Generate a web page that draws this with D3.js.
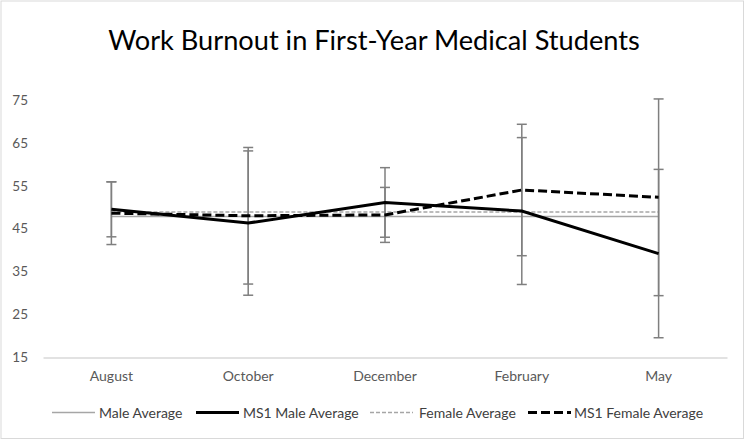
<!DOCTYPE html>
<html><head><meta charset="utf-8">
<script src="https://cdn.jsdelivr.net/npm/d3@7"></script>
<style>
body{margin:0;background:#fff;}
svg{display:block;font-family:Lato, "Open Sans", sans-serif;}
</style></head>
<body>
<svg id="chart" width="746" height="441"></svg>
<script>
const months = ["August","October","December","February","May"];
const yTicks = [15,25,35,45,55,65,75];
const maleAvg = [47.8,47.8,47.8,47.8,47.8];
const femaleAvg = [48.9,48.9,48.9,48.9,48.9];
const ms1Male = [49.5,46.3,51.1,49.1,39.2];
const ms1Female = [48.6,48.0,48.2,54.0,52.3];
const ms1MaleErr = [6.4,16.8,8.1,17.1,19.6];
const ms1FemaleErr = [7.3,15.9,6.4,15.3,22.9];
const legendLabels = ["Male Average","MS1 Male Average","Female  Average","MS1 Female Average"];

const svg = d3.select("#chart");
svg.append("rect").attr("x",1).attr("y",1).attr("width",742.5).attr("height",437.5)
  .attr("fill","#fff").attr("stroke","#d9d9d9").attr("stroke-width",1);

svg.append("text").attr("x",374).attr("y",50).attr("text-anchor","middle")
  .attr("font-size",27.2).attr("fill","#000").text("Work Burnout in First-Year Medical Students");

const x = d3.scaleBand().domain(months).range([43,727]);
const y = d3.scaleLinear().domain([15,75]).range([357.5,99.8]);
const cx = m => x(m) + x.bandwidth()/2;

// y axis labels
const yAxis = d3.axisLeft(y).tickValues(yTicks).tickSize(0).tickPadding(0);
const ya = svg.append("g").attr("transform","translate(28,0)").call(yAxis);
ya.select(".domain").remove();
ya.selectAll("text").attr("font-size",13.5).attr("fill","#595959").attr("font-family","Lato, 'Open Sans', sans-serif");

// x axis
const xAxis = d3.axisBottom(x).tickSize(0).tickPadding(14);
const xa = svg.append("g").attr("transform",`translate(0,${y(15)})`).call(xAxis);
xa.select(".domain").attr("stroke","#d9d9d9").attr("stroke-width",1.5);
xa.selectAll("text").attr("font-size",14).attr("fill","#595959").attr("font-family","Lato, 'Open Sans', sans-serif");

const line = d3.line().x((d,i)=>cx(months[i])).y(d=>y(d));

// error bars
function errBars(vals, errs){
  const g = svg.append("g").attr("stroke","#7f7f7f").attr("stroke-width",1.5);
  vals.forEach((v,i)=>{
    const xc = cx(months[i]);
    g.append("line").attr("x1",xc).attr("x2",xc).attr("y1",y(v-errs[i])).attr("y2",y(v+errs[i]));
    [v-errs[i], v+errs[i]].forEach(e=>{
      g.append("line").attr("x1",xc-5).attr("x2",xc+5).attr("y1",y(e)).attr("y2",y(e));
    });
  });
}

svg.append("path").datum(maleAvg).attr("d",line).attr("fill","none").attr("stroke","#a6a6a6").attr("stroke-width",1.5);
svg.append("path").datum(femaleAvg).attr("d",line).attr("fill","none").attr("stroke","#a6a6a6").attr("stroke-width",1.5).attr("stroke-dasharray","4,2");
errBars(ms1Male, ms1MaleErr);
errBars(ms1Female, ms1FemaleErr);
svg.append("path").datum(ms1Male).attr("d",line).attr("fill","none").attr("stroke","#000").attr("stroke-width",3);
svg.append("path").datum(ms1Female).attr("d",line).attr("fill","none").attr("stroke","#000").attr("stroke-width",3).attr("stroke-dasharray","9,4");

// legend
const legendStyles = [
  {stroke:"#a6a6a6", w:1.5, dash:null, x0:52, x1:95, tx:99},
  {stroke:"#000", w:3, dash:null, x0:196, x1:239, tx:243},
  {stroke:"#a6a6a6", w:1.5, dash:"4,2", x0:370, x1:413, tx:419},
  {stroke:"#000", w:3, dash:"9,4", x0:528, x1:571, tx:574}
];
const lg = svg.append("g");
legendLabels.forEach((lab,i)=>{
  const s = legendStyles[i];
  lg.append("line").attr("x1",s.x0).attr("x2",s.x1).attr("y1",412.5).attr("y2",412.5)
    .attr("stroke",s.stroke).attr("stroke-width",s.w).attr("stroke-dasharray",s.dash);
  lg.append("text").attr("x",s.tx).attr("y",413.5).attr("dy","0.35em").attr("font-size",14)
    .attr("fill","#404040").text(lab);
});
</script>
</body></html>
